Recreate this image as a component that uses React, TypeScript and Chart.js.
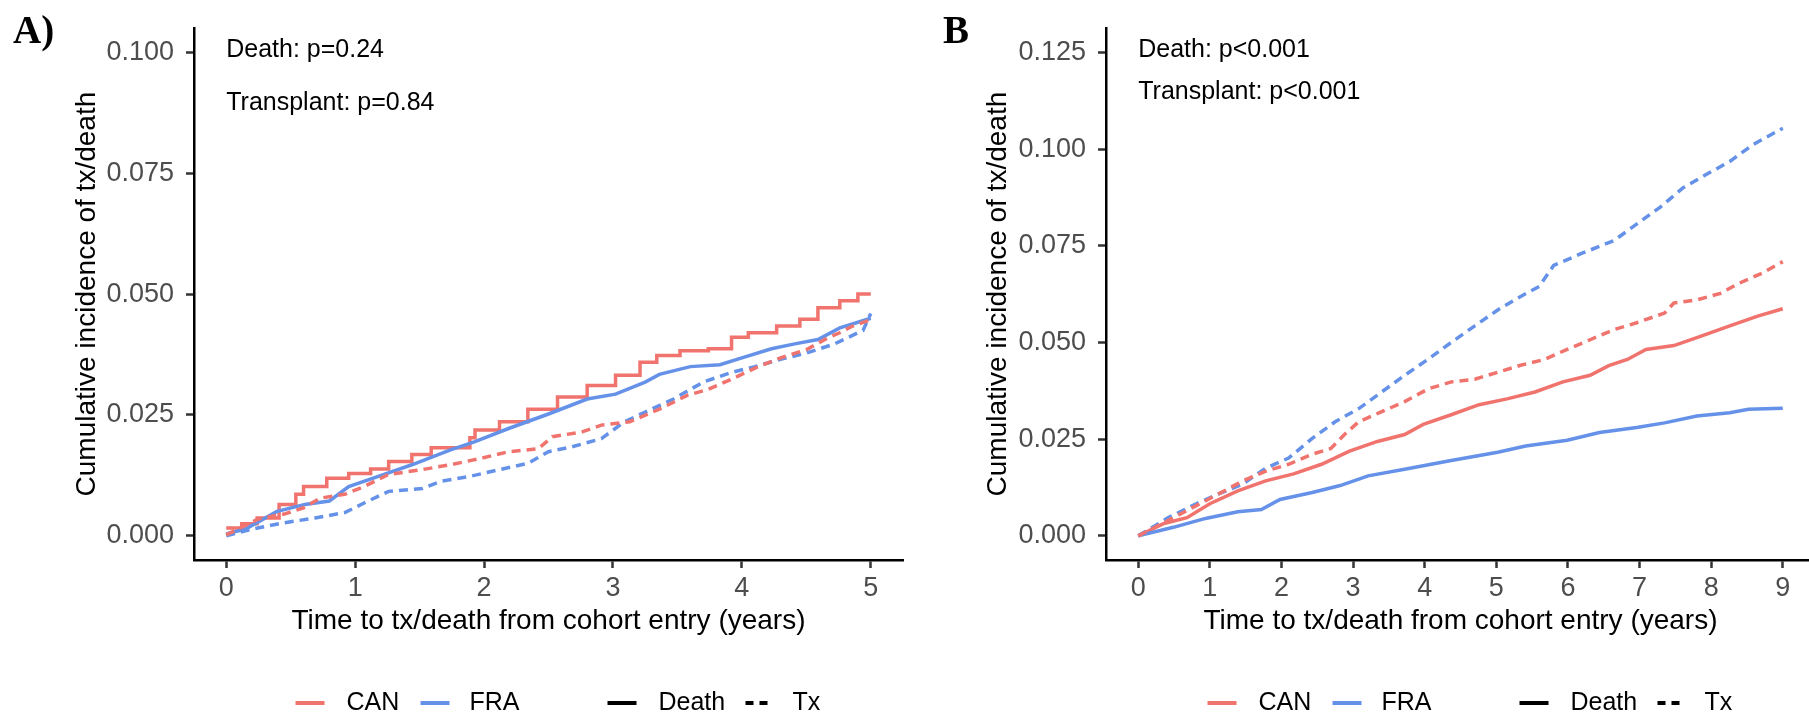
import React, { useEffect, useRef } from "react";
import { Chart, registerables } from "chart.js";
Chart.register(...registerables);

const RED = "#F0736E";
const BLUE = "#6592E8";
const FONT = '"Liberation Sans", Arial, sans-serif';

// ---------- Panel A ----------
const A_X_TICKS = [0, 1, 2, 3, 4, 5];
const A_Y_TICKS = [0, 0.025, 0.05, 0.075, 0.1];

const A_CAN_DEATH_T = [0, 0.12, 0.24, 0.41, 0.54, 0.6, 0.78, 0.95, 1.12, 1.26, 1.44, 1.59, 1.89, 1.93, 2.12, 2.34, 2.57, 2.8, 3.02, 3.21, 3.34, 3.52, 3.74, 3.92, 4.05, 4.27, 4.45, 4.59, 4.76, 4.9, 5.0];
const A_CAN_DEATH_Y = [0.0016, 0.0025, 0.0037, 0.0065, 0.0086, 0.0102, 0.0119, 0.0129, 0.0138, 0.0154, 0.0168, 0.0182, 0.0203, 0.0219, 0.0236, 0.0262, 0.0287, 0.0311, 0.0332, 0.0359, 0.0373, 0.0383, 0.0387, 0.0411, 0.042, 0.0434, 0.0448, 0.0472, 0.0486, 0.05, 0.05];

const A_FRA_DEATH_T = [0, 0.15, 0.39, 0.61, 0.8, 0.95, 1.18, 1.44, 1.74, 1.93, 2.19, 2.5, 2.8, 3.02, 3.25, 3.36, 3.6, 3.83, 4.0, 4.23, 4.41, 4.59, 4.76, 5.0];
const A_FRA_DEATH_Y = [0.0004, 0.0014, 0.005, 0.0065, 0.0072, 0.0102, 0.0123, 0.0147, 0.0178, 0.0195, 0.0222, 0.0252, 0.0283, 0.0293, 0.0318, 0.0334, 0.035, 0.0354, 0.0368, 0.0387, 0.0397, 0.0406, 0.043, 0.045];

const A_CAN_TX_T = [0, 0.1, 0.25, 0.45, 0.6, 0.73, 0.92, 1.07, 1.26, 1.52, 1.74, 1.97, 2.19, 2.42, 2.53, 2.76, 2.91, 3.13, 3.36, 3.58, 3.74, 3.92, 4.11, 4.3, 4.5, 4.67, 4.76, 4.86, 5.0];
const A_CAN_TX_Y = [0.0002, 0.0015, 0.0035, 0.0045, 0.0058, 0.0078, 0.0086, 0.0102, 0.0127, 0.0137, 0.0147, 0.016, 0.0174, 0.018, 0.0205, 0.0215, 0.0229, 0.0236, 0.0262, 0.0291, 0.0303, 0.0324, 0.0348, 0.0368, 0.0385, 0.041, 0.042, 0.0434, 0.0447];

const A_FRA_TX_T = [0, 0.2, 0.45, 0.69, 0.92, 1.07, 1.26, 1.52, 1.67, 1.89, 2.12, 2.34, 2.5, 2.68, 2.91, 3.09, 3.25, 3.47, 3.7, 3.92, 4.1, 4.3, 4.5, 4.72, 4.94, 5.0];
const A_FRA_TX_Y = [0, 0.0014, 0.0027, 0.0037, 0.0048, 0.0068, 0.0092, 0.0098, 0.0113, 0.0123, 0.0137, 0.015, 0.0174, 0.0184, 0.0201, 0.0236, 0.0256, 0.0283, 0.0318, 0.0338, 0.035, 0.0365, 0.0378, 0.0397, 0.0425, 0.046];

const A_NOTES = ["Death: p=0.24", "Transplant: p=0.84"];
const A_NOTE_Y = [0.1005, 0.0895];

// ---------- Panel B ----------
const B_X_TICKS = [0, 1, 2, 3, 4, 5, 6, 7, 8, 9];
const B_Y_TICKS = [0, 0.025, 0.05, 0.075, 0.1, 0.125];

const B_CAN_DEATH_T = [0, 0.36, 0.68, 1.0, 1.39, 1.78, 2.17, 2.56, 2.95, 3.34, 3.72, 3.98, 4.37, 4.76, 5.15, 5.54, 5.93, 6.31, 6.57, 6.83, 7.09, 7.48, 7.87, 8.26, 8.65, 9.0];
const B_CAN_DEATH_Y = [0, 0.0032, 0.0047, 0.0083, 0.0116, 0.0142, 0.016, 0.0185, 0.0219, 0.0244, 0.0262, 0.0288, 0.0313, 0.0339, 0.0354, 0.0372, 0.0398, 0.0415, 0.044, 0.0456, 0.0482, 0.0492, 0.0517, 0.0543, 0.0568, 0.0587];

const B_FRA_DEATH_T = [0, 0.49, 0.94, 1.39, 1.72, 1.98, 2.43, 2.82, 3.21, 3.72, 4.37, 5.02, 5.41, 5.99, 6.44, 6.96, 7.35, 7.8, 8.26, 8.52, 9.0];
const B_FRA_DEATH_Y = [0, 0.0022, 0.0045, 0.0062, 0.0068, 0.0094, 0.0112, 0.013, 0.0155, 0.0172, 0.0195, 0.0216, 0.0232, 0.0247, 0.0267, 0.028, 0.0292, 0.031, 0.0318, 0.0327, 0.033];

const B_CAN_TX_T = [0, 0.42, 0.81, 1.13, 1.46, 1.78, 2.1, 2.43, 2.69, 2.88, 3.08, 3.4, 3.72, 4.05, 4.37, 4.7, 5.02, 5.34, 5.67, 5.99, 6.31, 6.64, 6.96, 7.35, 7.48, 7.8, 8.13, 8.39, 8.71, 9.0];
const B_CAN_TX_Y = [0, 0.004, 0.0078, 0.0109, 0.0142, 0.0167, 0.0185, 0.0211, 0.0226, 0.0262, 0.0295, 0.0321, 0.0347, 0.038, 0.0398, 0.0405, 0.0423, 0.0441, 0.0456, 0.0482, 0.0507, 0.0533, 0.0551, 0.0576, 0.0602, 0.061, 0.0627, 0.0653, 0.0679, 0.0709];

const B_FRA_TX_T = [0, 0.42, 0.81, 1.13, 1.46, 1.78, 2.1, 2.43, 2.75, 3.08, 3.4, 3.72, 4.05, 4.37, 4.7, 5.02, 5.34, 5.6, 5.8, 6.19, 6.64, 6.96, 7.29, 7.61, 7.93, 8.26, 8.58, 9.0];
const B_FRA_TX_Y = [0, 0.0047, 0.0083, 0.0109, 0.0134, 0.0175, 0.0201, 0.0252, 0.0295, 0.0329, 0.0372, 0.0415, 0.0457, 0.05, 0.0543, 0.0584, 0.0619, 0.0645, 0.0699, 0.073, 0.0763, 0.0806, 0.085, 0.09, 0.0934, 0.0968, 0.1011, 0.1054];

const B_NOTES = ["Death: p<0.001", "Transplant: p<0.001"];
const B_NOTE_Y = [0.1255, 0.1148];

// ---------- Shared text ----------
const X_TITLE = "Time to tx/death from cohort entry (years)";
const Y_TITLE = "Cumulative incidence of tx/death";
const LEGEND_LABELS = ["CAN", "FRA", "Death", "Tx"];

function pts(t: number[], y: number[]) {
  return t.map((v, i) => ({ x: v, y: y[i] }));
}

function ds(label: string, t: number[], y: number[], color: string, dashed: boolean, stepped: boolean) {
  return {
    label,
    data: pts(t, y),
    borderColor: color,
    backgroundColor: color,
    borderWidth: 3.5,
    borderDash: dashed ? [9, 6] : [],
    borderCapStyle: "butt",
    pointRadius: 0,
    fill: false,
    tension: 0,
    stepped: stepped ? true : false,
  };
}

type PanelCfg = {
  yAxisWidth: number;
  padRight: number;
  xMin: number;
  xMax: number;
  yMin: number;
  yMax: number;
  xTicks: number[];
  yTicks: number[];
  yTitlePad: number;
  notes: string[];
  noteY: number[];
  label: string;
  labelX: number;
  datasets: any[];
};

function overlay(cfg: PanelCfg) {
  return {
    id: "overlay" + cfg.label.replace(/\W/g, ""),
    afterDraw(chart: any) {
      const ctx = chart.ctx;
      const xs = chart.scales.x;
      const ys = chart.scales.y;
      const area = chart.chartArea;
      ctx.save();
      // annotations
      ctx.fillStyle = "#000";
      ctx.font = "25px " + FONT;
      ctx.textAlign = "left";
      ctx.textBaseline = "middle";
      cfg.notes.forEach((t, i) => {
        ctx.fillText(t, xs.getPixelForValue(0), ys.getPixelForValue(cfg.noteY[i]));
      });
      // panel label
      ctx.font = 'bold 39px "Liberation Serif", "Times New Roman", serif';
      ctx.textBaseline = "alphabetic";
      ctx.fillText(cfg.label, cfg.labelX, 43);
      // legend
      const cy = 703;
      const start = (area.left + area.right) / 2 - 253;
      const keys = [
        { k: 0, w: 29, t: 51, color: RED, dash: [] as number[] },
        { k: 125, w: 29, t: 174, color: BLUE, dash: [] as number[] },
        { k: 312, w: 29, t: 363, color: "#000", dash: [] as number[] },
        { k: 450, w: 25, t: 497, color: "#000", dash: [8, 6] },
      ];
      ctx.font = "25px " + FONT;
      ctx.textBaseline = "middle";
      keys.forEach((it, i) => {
        ctx.beginPath();
        ctx.setLineDash(it.dash);
        ctx.lineCap = "butt";
        ctx.strokeStyle = it.color;
        ctx.lineWidth = 4;
        ctx.moveTo(start + it.k, cy);
        ctx.lineTo(start + it.k + it.w, cy);
        ctx.stroke();
        ctx.setLineDash([]);
        ctx.fillStyle = "#000";
        ctx.fillText(LEGEND_LABELS[i], start + it.t, cy);
      });
      ctx.restore();
    },
  };
}

function makeChart(canvas: HTMLCanvasElement, cfg: PanelCfg) {
  const tickFont = { family: FONT, size: 27 };
  const titleFont = { family: FONT, size: 28 };
  return new Chart(canvas, {
    type: "line",
    data: { datasets: cfg.datasets },
    options: {
      animation: false,
      responsive: false,
      devicePixelRatio: 1,
      layout: { padding: { left: 0, top: 22, right: cfg.padRight, bottom: 78 } },
      plugins: { legend: { display: false }, tooltip: { enabled: false } },
      scales: {
        x: {
          type: "linear",
          min: cfg.xMin,
          max: cfg.xMax,
          afterBuildTicks: (s: any) => {
            s.ticks = cfg.xTicks.map((v) => ({ value: v }));
          },
          afterFit: (s: any) => {
            s.height = 78;
          },
          ticks: {
            font: tickFont,
            color: "#4D4D4D",
            padding: 4,
            autoSkip: false,
            maxRotation: 0,
            callback: (v: any) => String(v),
          },
          grid: { drawOnChartArea: false, tickLength: 8, tickWidth: 2.5, tickColor: "#333" },
          border: { display: true, color: "#000", width: 2.5 },
          title: { display: true, text: X_TITLE, font: titleFont, color: "#000", padding: { top: 0, bottom: 0 } },
        },
        y: {
          type: "linear",
          min: cfg.yMin,
          max: cfg.yMax,
          afterBuildTicks: (s: any) => {
            s.ticks = cfg.yTicks.map((v) => ({ value: v }));
          },
          afterFit: (s: any) => {
            s.width = cfg.yAxisWidth;
          },
          ticks: {
            font: tickFont,
            color: "#4D4D4D",
            padding: 12,
            autoSkip: false,
            callback: (v: any) => Number(v).toFixed(3),
          },
          grid: { drawOnChartArea: false, tickLength: 8, tickWidth: 2.5, tickColor: "#333" },
          border: { display: true, color: "#000", width: 2.5 },
          title: { display: true, text: Y_TITLE, font: titleFont, color: "#000", padding: { top: cfg.yTitlePad, bottom: 0 } },
        },
      },
    } as any,
    plugins: [overlay(cfg)],
  });
}

export default function App() {
  const aRef = useRef<HTMLCanvasElement>(null);
  const bRef = useRef<HTMLCanvasElement>(null);

  useEffect(() => {
    Chart.defaults.font.family = FONT;
    const a = makeChart(aRef.current!, {
      yAxisWidth: 194,
      padRight: 2,
      xMin: -0.25,
      xMax: 5.25,
      yMin: -0.005,
      yMax: 0.105,
      xTicks: A_X_TICKS,
      yTicks: A_Y_TICKS,
      yTitlePad: 70,
      notes: A_NOTES,
      noteY: A_NOTE_Y,
      label: "A)",
      labelX: 13,
      datasets: [
        ds("CAN Tx", A_CAN_TX_T, A_CAN_TX_Y, RED, true, false),
        ds("FRA Tx", A_FRA_TX_T, A_FRA_TX_Y, BLUE, true, false),
        ds("FRA Death", A_FRA_DEATH_T, A_FRA_DEATH_Y, BLUE, false, false),
        ds("CAN Death", A_CAN_DEATH_T, A_CAN_DEATH_Y, RED, false, true),
      ],
    });
    const b = makeChart(bRef.current!, {
      yAxisWidth: 201,
      padRight: 5,
      xMin: -0.45,
      xMax: 9.45,
      yMin: -0.00625,
      yMax: 0.13125,
      xTicks: B_X_TICKS,
      yTicks: B_Y_TICKS,
      yTitlePad: 76,
      notes: B_NOTES,
      noteY: B_NOTE_Y,
      label: "B",
      labelX: 38,
      datasets: [
        ds("CAN Tx", B_CAN_TX_T, B_CAN_TX_Y, RED, true, false),
        ds("FRA Tx", B_FRA_TX_T, B_FRA_TX_Y, BLUE, true, false),
        ds("FRA Death", B_FRA_DEATH_T, B_FRA_DEATH_Y, BLUE, false, false),
        ds("CAN Death", B_CAN_DEATH_T, B_CAN_DEATH_Y, RED, false, false),
      ],
    });
    return () => {
      a.destroy();
      b.destroy();
    };
  }, []);

  return (
    <div
      style={{
        position: "fixed",
        left: 0,
        top: 0,
        width: 1809,
        height: 716,
        overflow: "hidden",
        background: "#fff",
      }}
    >
      <canvas
        ref={aRef}
        width={905}
        height={716}
        style={{ position: "absolute", left: 0, top: 0, width: 905, height: 716 }}
      />
      <canvas
        ref={bRef}
        width={915}
        height={716}
        style={{ position: "absolute", left: 905, top: 0, width: 915, height: 716 }}
      />
    </div>
  );
}
